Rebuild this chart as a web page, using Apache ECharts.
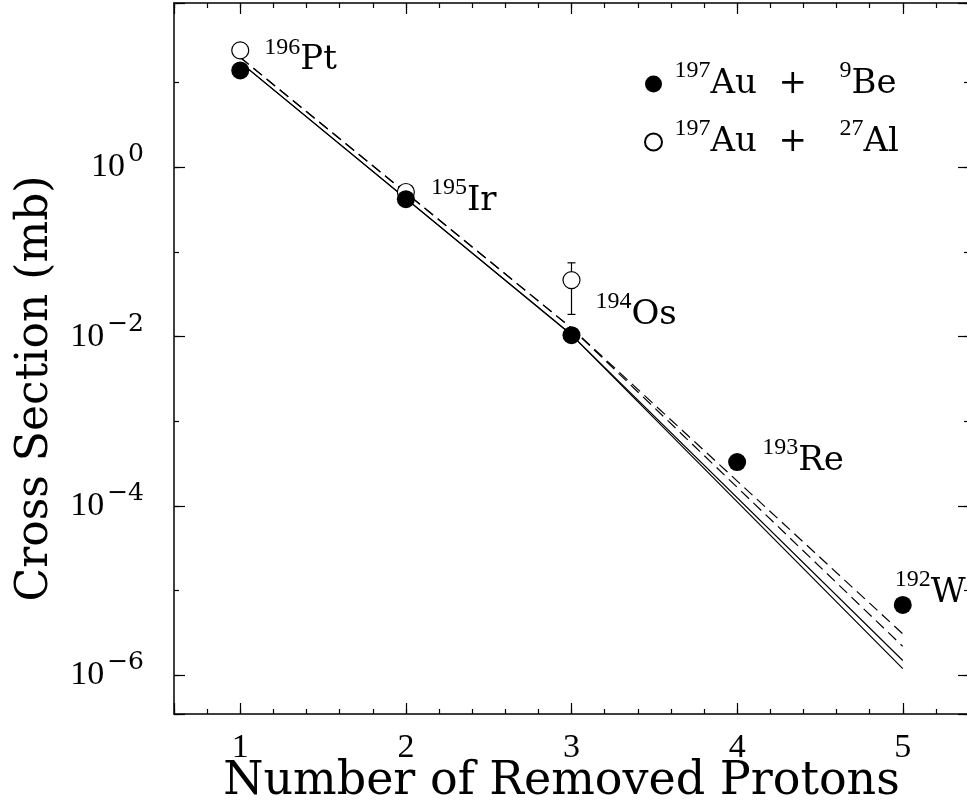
<!DOCTYPE html>
<html><head><meta charset="utf-8">
<script src="https://cdn.jsdelivr.net/npm/echarts@6/dist/echarts.min.js"></script>
<style>html,body{margin:0;padding:0;background:#fff}#c{width:967px;height:805px}</style>
</head><body><div id="c"></div>
<script>
// ---- data ----
const removedProtons = [1, 2, 3, 4, 5];
const crossBe = [13.9, 0.42, 0.0104, 3.3e-4, 6.8e-6];          // 197Au + 9Be (filled)
const removedProtonsAl = [1, 2, 3];
const crossAl = [24, 0.51, 0.0465];                               // 197Au + 27Al (open)
const errLowAl = [null, null, 0.0183];
const errHighAl = [null, null, 0.0744];
const isotopeMass = ['196', '195', '194', '193', '192'];
const isotopeSymbol = ['Pt', 'Ir', 'Os', 'Re', 'W'];
const curveX = [1, 3, 5];
const solidCurveA = [17.3, 0.0105, 1.2e-6];
const solidCurveB = [17.3, 0.0105, 1.5e-6];
const dashedCurveA = [19.8, 0.0126, 2.2e-6];
const dashedCurveB = [19.8, 0.0126, 3.1e-6];
const yTickExponents = [-6, -4, -2, 0];
const xRange = [0.6, 5.4];
const yRange = [3.5e-7, 87];
const seriesNames = ['Au+Be', 'Au+Al'];
const legendMass = [['197', '9'], ['197', '27']];
const legendSymbols = [['Au', 'Be'], ['Au', 'Al']];

// ---- styles ----
const SERIF = 'Liberation Serif';
const LETTERS = 'DejaVu Serif';
const NB = '\u00a0';
const labelOffsets = [[10, -10], [11, 2], [10, -20], [11, -1], [-22, -12]];
const supRich = {
  s: { fontFamily: SERIF, fontSize: 24, lineHeight: 24, verticalAlign: 'top', color: '#000' },
  m: { fontFamily: LETTERS, fontSize: 34, lineHeight: 50, color: '#000' }
};

function yLabel(v) {
  const e = Math.log10(v), r = Math.round(e);
  if (Math.abs(e - r) > 1e-6 || yTickExponents.indexOf(r) < 0) return '';
  return '{m|10}{s|' + (r < 0 ? '\u2212' + (-r) : r) + '}';
}
function xLabel(v) { return Math.abs(v - Math.round(v)) < 1e-9 ? String(Math.round(v)) : ''; }

const axisLineStyle = { color: '#000', width: 1.5 };
function xAxisCfg(grid, pos, major) {
  const c = {
    type: 'value', gridIndex: grid, position: pos, min: xRange[0], max: xRange[1],
    axisLine: { show: major, lineStyle: axisLineStyle },
    axisTick: { show: true, inside: true, length: major ? 11 : 5, lineStyle: { color: '#000', width: 1.2 } },
    axisLabel: { show: false }, splitLine: { show: false }
  };
  if (!major) c.interval = 0.2;
  return c;
}
function yAxisCfg(grid, pos, major) {
  return {
    type: 'log', logBase: major ? 100 : 10, gridIndex: grid, position: pos, min: yRange[0], max: yRange[1],
    axisLine: { show: major, lineStyle: axisLineStyle },
    axisTick: { show: true, inside: true, length: major ? 11 : 5, lineStyle: { color: '#000', width: 1.2 } },
    axisLabel: { show: false }, splitLine: { show: false }
  };
}

const xBottom = xAxisCfg(0, 'bottom', true);
xBottom.axisLabel = { show: true, formatter: xLabel, margin: 17, color: '#000', fontFamily: SERIF, fontSize: 34 };
xBottom.name = 'Number of Removed Protons';
xBottom.nameLocation = 'middle';
xBottom.nameGap = 45;
xBottom.nameMoveOverlap = false;
xBottom.nameTextStyle = { fontFamily: LETTERS, fontSize: 46, color: '#000', padding: [0, 20, 0, 0] };

const yLeft = yAxisCfg(0, 'left', true);
yLeft.axisLabel = {
  show: true, formatter: yLabel, margin: 30, color: '#000',
  rich: {
    m: { fontFamily: SERIF, fontSize: 34, lineHeight: 50, color: '#000' },
    s: { fontFamily: LETTERS, fontSize: 25, lineHeight: 25, verticalAlign: 'top', padding: [0, 0, 0, 3], color: '#000' }
  }
};
yLeft.name = 'Cross Section (mb)';
yLeft.nameLocation = 'middle';
yLeft.nameGap = 116;
yLeft.nameTextStyle = { fontFamily: LETTERS, fontSize: 44, color: '#000', padding: [0, 60, 0, 0] };

const gridBox = { left: 174, top: 3, right: -2, bottom: 91, containLabel: false, outerBoundsMode: 'none' };

function lineSeries(vals, dashed) {
  return {
    type: 'line', xAxisIndex: 0, yAxisIndex: 0, z: 2, silent: true,
    data: curveX.map((x, i) => [x, vals[i]]),
    showSymbol: false, symbol: 'none',
    lineStyle: { color: '#000', width: 1.2, type: dashed ? [11, 6] : 'solid' }
  };
}

const option = {
  animation: false,
  backgroundColor: '#fff',
  grid: [Object.assign({}, gridBox), Object.assign({}, gridBox)],
  xAxis: [xBottom, xAxisCfg(0, 'top', true), xAxisCfg(1, 'bottom', false), xAxisCfg(1, 'top', false)],
  yAxis: [yLeft, yAxisCfg(0, 'right', true), yAxisCfg(1, 'left', false), yAxisCfg(1, 'right', false)],
  legend: {
    orient: 'vertical', left: 639, top: 54, itemWidth: 32, itemHeight: 17, itemGap: 16,
    selectedMode: false,
    data: seriesNames,
    formatter: function (name) {
      const i = seriesNames.indexOf(name);
      return '{s|' + legendMass[i][0] + '}{m|' + legendSymbols[i][0] + NB + NB + '+' + NB + NB + NB + '}{s|' +
        legendMass[i][1] + '}{m|' + legendSymbols[i][1] + '}';
    },
    textStyle: { rich: supRich }
  },
  series: [
    lineSeries(solidCurveA, false),
    lineSeries(solidCurveB, false),
    lineSeries(dashedCurveA, true),
    lineSeries(dashedCurveB, true),
    {
      type: 'custom', xAxisIndex: 0, yAxisIndex: 0, z: 3, silent: true,
      data: removedProtonsAl.map((x, i) => [x, errLowAl[i], errHighAl[i]]).filter(d => d[1] != null),
      renderItem: function (params, api) {
        const lo = api.coord([api.value(0), api.value(1)]);
        const hi = api.coord([api.value(0), api.value(2)]);
        const w = 4;
        const st = { stroke: '#000', lineWidth: 1.2 };
        return {
          type: 'group', children: [
            { type: 'line', shape: { x1: lo[0], y1: lo[1], x2: hi[0], y2: hi[1] }, style: st },
            { type: 'line', shape: { x1: lo[0] - w, y1: lo[1], x2: lo[0] + w, y2: lo[1] }, style: st },
            { type: 'line', shape: { x1: hi[0] - w, y1: hi[1], x2: hi[0] + w, y2: hi[1] }, style: st }
          ]
        };
      }
    },
    {
      name: seriesNames[1], type: 'scatter', xAxisIndex: 0, yAxisIndex: 0, z: 4,
      symbol: 'circle', symbolSize: 17,
      itemStyle: { color: '#fff', borderColor: '#000', borderWidth: 1.2, opacity: 1 },
      data: removedProtonsAl.map((x, i) => [x, crossAl[i]])
    },
    {
      name: seriesNames[0], type: 'scatter', xAxisIndex: 0, yAxisIndex: 0, z: 5,
      symbol: 'circle', symbolSize: 18,
      itemStyle: { color: '#000', opacity: 1 },
      data: removedProtons.map((x, i) => ({ value: [x, crossBe[i]], label: { offset: labelOffsets[i] } })),
      label: {
        show: true, position: 'right', color: '#000',
        formatter: p => '{s|' + isotopeMass[p.dataIndex] + '}{m|' + isotopeSymbol[p.dataIndex] + '}',
        rich: supRich
      }
    }
  ]
};
const chart = echarts.init(document.getElementById('c'), null, { renderer: 'canvas' });
chart.setOption(option);
</script>
</body></html>
